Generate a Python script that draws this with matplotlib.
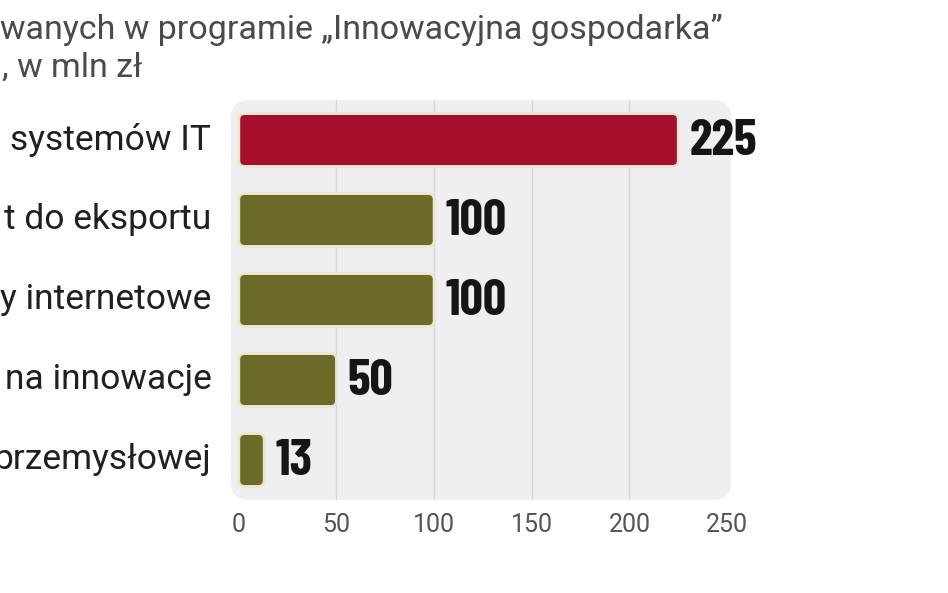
import matplotlib
matplotlib.use("Agg")
import matplotlib.pyplot as plt
from matplotlib.patches import FancyBboxPatch

categories = ["systemów IT", "t do eksportu", "y internetowe", "na innowacje", "przemysłowej"]
values = [225, 100, 100, 50, 13]
value_labels = ["225", "100", "100", "50", "13"]
bar_colors = ["#a50f2b", "#6b6a27", "#6b6a27", "#6b6a27", "#6b6a27"]
xticks = [0, 50, 100, 150, 200, 250]
title_line1 = "wanych w programie \u201eInnowacyjna gospodarka\u201d"
title_line2 = ", w mln zł"

fig = plt.figure(figsize=(9.48, 5.93), dpi=100)
fig.patch.set_facecolor("white")
ax = fig.add_axes([231 / 948, 93 / 593, 500 / 948, 400 / 593])
ax.patch.set_visible(False)
ax.set_xlim(-4, 252)
ax.set_ylim(4.5, -0.5)

bg = FancyBboxPatch((0, 0), 1, 1, boxstyle="round,pad=0,rounding_size=0.04",
                    transform=ax.transAxes, facecolor="#efeff2", edgecolor="none",
                    zorder=0, mutation_aspect=1.0, clip_on=False)
ax.add_patch(bg)

for x in xticks[1:-1]:
    ax.axvline(x, color="#d6d6da", lw=1.0, zorder=1)

ypos = list(range(len(categories)))
bars = ax.barh(ypos, values, height=0.66, color=bar_colors)

# replace the plain rectangles with rounded ones of the same geometry
px_per_x = 500 / 256.0
px_per_y = 400 / 5.0
for rect, col in zip(bars, bar_colors):
    rect.set_visible(False)
    x0, y0 = rect.get_x(), rect.get_y()
    w, h = rect.get_width(), rect.get_height()
    rnd = 3.0
    p = FancyBboxPatch((x0, y0), w, h,
                       boxstyle=f"round,pad=0,rounding_size={rnd}",
                       mutation_aspect=px_per_x / px_per_y,
                       facecolor=col, edgecolor="#ebe6cf", linewidth=2.0,
                       zorder=3)
    ax.add_patch(p)

for y, v, lab in zip(ypos, values, value_labels):
    ax.annotate(lab, (v, y), xytext=(8, -1), textcoords="offset points",
                ha="left", va="center", fontsize=37, fontweight="bold",
                family=["Barlow Condensed", "DejaVu Sans"], color="#151515",
                zorder=4)

for y, c in zip(ypos, categories):
    ax.text(-14, y, c, ha="right", va="center", fontsize=25.5,
            color="#202020", family="Roboto", transform=ax.transData)

ax.set_yticks([])
ax.set_xticks(xticks)
ax.set_xticklabels([str(t) for t in xticks], fontsize=18, color="#555555",
                   family="Roboto")
ax.tick_params(axis="x", length=0, pad=9)
for s in ax.spines.values():
    s.set_visible(False)

fig.text(0.0, 1 - 30 / 593, title_line1, ha="left", va="center", fontsize=24.5,
         color="#4a4a4a", family="Roboto")
fig.text(0.002, 1 - 68 / 593, title_line2, ha="left", va="center", fontsize=24.5,
         color="#4a4a4a", family="Roboto")

fig.savefig("out.png", dpi=100, facecolor="white")
